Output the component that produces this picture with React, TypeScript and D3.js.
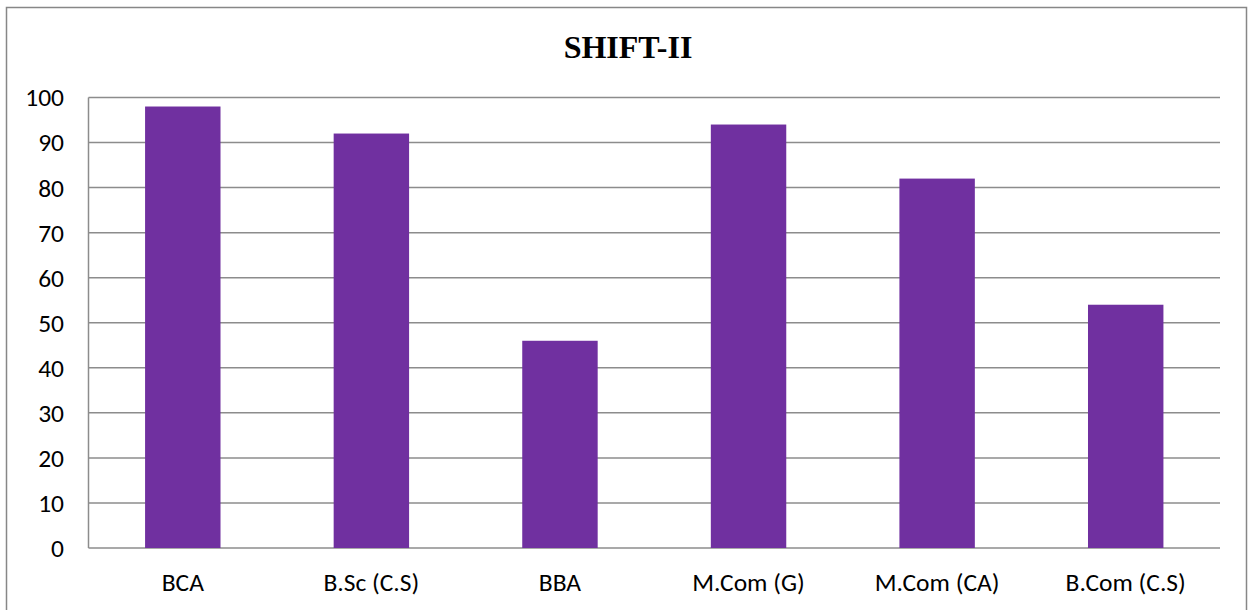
import { useRef, useEffect } from "react";
import * as d3 from "d3";

const categories = ["BCA", "B.Sc (C.S)", "BBA", "M.Com (G)", "M.Com (CA)", "B.Com (C.S)"];
const values = [98, 92, 46, 94, 82, 54];
const yTicks = [0, 10, 20, 30, 40, 50, 60, 70, 80, 90, 100];

const W = 1250;
const H = 610;
const margin = { left: 88.5, right: 30, top: 97.5, bottom: 62 };
const FONT = "Carlito, Calibri, 'Open Sans', 'Noto Sans', sans-serif";

export default function App() {
  const svgRef = useRef<SVGSVGElement>(null);

  useEffect(() => {
    if (!svgRef.current) return;
    const svg = d3.select(svgRef.current);
    svg.selectAll("*").remove();

    svg.append("rect")
      .attr("x", 0).attr("y", 0).attr("width", W).attr("height", H)
      .attr("fill", "#fff");

    // outer chart border
    svg.append("rect")
      .attr("x", 6.5).attr("y", 7.5)
      .attr("width", 1240).attr("height", 620)
      .attr("fill", "none")
      .attr("stroke", "#878787")
      .attr("stroke-width", 1.5);

    const x = d3.scaleBand<string>()
      .domain(categories)
      .range([margin.left, W - margin.right])
      .paddingInner(0.6)
      .paddingOuter(0.3);

    const y = d3.scaleLinear()
      .domain([0, 100])
      .range([H - margin.bottom, margin.top]);

    // gridlines
    svg.append("g")
      .selectAll("line")
      .data(yTicks)
      .join("line")
      .attr("x1", margin.left)
      .attr("x2", W - margin.right)
      .attr("y1", (d) => y(d))
      .attr("y2", (d) => y(d))
      .attr("stroke", "#8c8c8c")
      .attr("stroke-width", 1.5);

    // y axis line
    svg.append("line")
      .attr("x1", margin.left).attr("x2", margin.left)
      .attr("y1", y(100)).attr("y2", y(0))
      .attr("stroke", "#8c8c8c")
      .attr("stroke-width", 1.5);

    // bars
    svg.append("g")
      .selectAll("rect")
      .data(values)
      .join("rect")
      .attr("x", (_, i) => x(categories[i])!)
      .attr("width", x.bandwidth())
      .attr("y", (d) => y(d))
      .attr("height", (d) => y(0) - y(d))
      .attr("fill", "#7030A0");

    // y tick labels
    svg.append("g")
      .selectAll("text")
      .data(yTicks)
      .join("text")
      .attr("x", 64)
      .attr("y", (d) => y(d))
      .attr("dy", "0.35em")
      .attr("text-anchor", "end")
      .attr("font-family", FONT)
      .attr("font-size", 25.5)
      .attr("fill", "#000")
      .text((d) => d);

    // category labels
    svg.append("g")
      .selectAll("text")
      .data(categories)
      .join("text")
      .attr("x", (d) => x(d)! + x.bandwidth() / 2)
      .attr("y", 582)
      .attr("dy", "0.35em")
      .attr("text-anchor", "middle")
      .attr("font-family", FONT)
      .attr("font-size", 25.5)
      .attr("fill", "#000")
      .text((d) => d);

    // title
    svg.append("text")
      .attr("x", 628)
      .attr("y", 58)
      .attr("text-anchor", "middle")
      .attr("font-family", "'Liberation Serif', 'Times New Roman', serif")
      .attr("font-weight", "bold")
      .attr("font-size", 32)
      .attr("fill", "#000")
      .text("SHIFT-II");
  }, []);

  return (
    <div style={{ position: "absolute", left: 0, top: 0 }}>
      <svg ref={svgRef} width={W} height={H} style={{ display: "block" }} />
    </div>
  );
}
